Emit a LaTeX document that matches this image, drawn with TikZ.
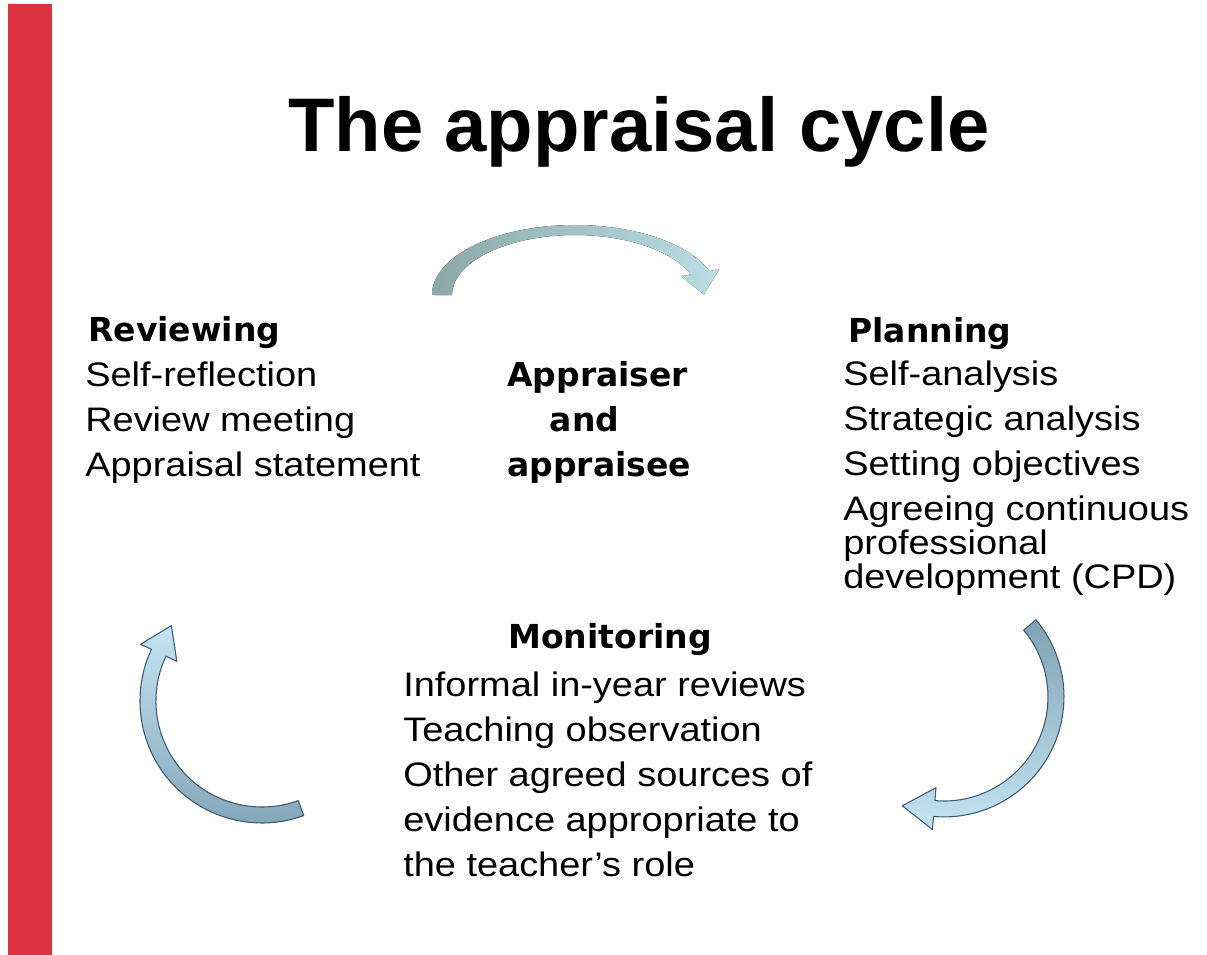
\documentclass[tikz,border=0pt]{standalone}
\usepackage{fontspec}
\setmainfont{Liberation Sans}
\newfontfamily\headfont{DejaVu Sans}
\newfontfamily\bodyfont[FakeStretch=1.116]{Liberation Sans}
\usetikzlibrary{positioning}

\definecolor{barred}{RGB}{219,52,62}
\definecolor{topdark}{RGB}{140,168,168}
\definecolor{toplight}{RGB}{185,222,228}
\definecolor{armdark}{RGB}{128,162,182}
\definecolor{armlight}{RGB}{196,228,242}
\definecolor{armline}{RGB}{62,90,112}

\tikzset{
  titletext/.style={anchor=base, inner sep=0pt, font=\bfseries\fontsize{57}{68}\selectfont},
  heading/.style={anchor=base west, inner sep=0pt, font=\headfont\bfseries\fontsize{24.75}{33.75}\selectfont},
  items/.style={anchor=base west, inner sep=0pt, align=left, font=\bodyfont\fontsize{25.5}{33.75}\selectfont},
  sidearrow/.style={draw=armline, line width=0.8pt, line join=round}
}

\begin{document}
\begin{tikzpicture}[x=0.75pt, y=-0.75pt]
    % Page and red side bar
    \useasboundingbox (0,0) rectangle (1207,955);
    \fill[white] (0,0) rectangle (1207,955);
    \fill[barred] (8,4) rectangle (52,955);

    % Title
    \node[titletext] (title) at (639,152) {The appraisal cycle};

    % The three stages and the centre (lists sit on their last baseline)
    \node[heading] (rev) at (88,342) {Reviewing};
    \node[items] (revlist) at (85,477) {Self-reflection\\Review meeting\\Appraisal statement};

    \node[heading, align=left] (who) at (507,477) {Appraiser\\\hspace*{32pt}and\\appraisee};

    \node[heading] (plan) at (848,343) {Planning};
    \node[items] (planlist) at (843,588) {Self-analysis\\Strategic analysis\\Setting objectives\\Agreeing continuous\\[-8.25pt]professional\\[-8.25pt]development (CPD)};

    \node[heading] (mon) at (508,648) {Monitoring};
    \node[items] (monlist) at (403,876) {Informal in-year reviews\\Teaching observation\\Other agreed sources of\\evidence appropriate to\\the teacher’s role};

    % Curved arrows
    \fill[left color=topdark, right color=toplight]
        (432,295) arc[start angle=180, end angle=340, x radius=143, y radius=70]
        -- (719.2,269.3) -- (703.9,294.4) -- (680.8,276.3) -- (690.6,274.5)
        arc[start angle=340, end angle=180, x radius=123, y radius=60] -- cycle;
    \draw[sidearrow, top color=armdark, bottom color=armlight]
        (1035.9,619.8) arc[start angle=-40, end angle=95, radius=120]
        -- (932.4,829.5) -- (902.3,805.8) -- (936.0,787.7) -- (934.9,800.6)
        arc[start angle=95, end angle=-40, radius=104] -- cycle;
    \draw[sidearrow, bottom color=armdark, top color=armlight]
        (303.7,815.6) arc[start angle=70, end angle=205, radius=122]
        -- (140.6,644.3) -- (171.4,625.6) -- (176.8,661.3) -- (165.9,656.2)
        arc[start angle=205, end angle=70, radius=106] -- cycle;
\end{tikzpicture}
\end{document}
